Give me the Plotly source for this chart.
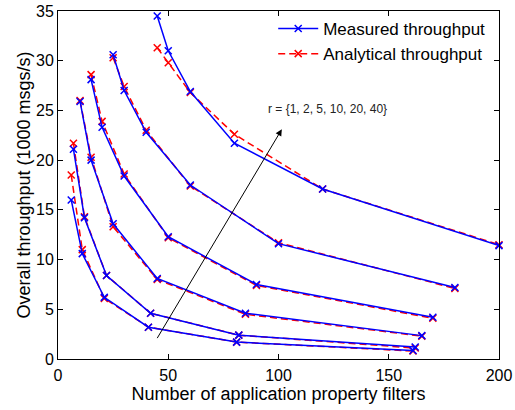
import plotly.graph_objects as go

# ---- data ----
x_r1 = [6, 11, 21, 41, 81, 161]
x_r2 = [7, 12, 22, 42, 82, 162]
x_r5 = [10, 15, 25, 45, 85, 165]
x_r10 = [15, 20, 30, 50, 90, 170]
x_r20 = [25, 30, 40, 60, 100, 180]
x_r40 = [45, 50, 60, 80, 120, 200]

meas_r1 = [16.0, 10.6, 6.2, 3.2, 1.7, 0.85]
meas_r2 = [21.1, 14.2, 8.4, 4.6, 2.4, 1.2]
meas_r5 = [25.9, 20.0, 13.6, 8.1, 4.6, 2.35]
meas_r10 = [28.1, 23.3, 18.4, 12.3, 7.5, 4.2]
meas_r20 = [30.6, 27.0, 22.8, 17.5, 11.6, 7.2]
meas_r40 = [34.5, 31.0, 26.9, 21.7, 17.1, 11.4]

anal_r1 = [18.5, 11.0, 6.1, 3.2, 1.7, 0.8]
anal_r2 = [21.7, 14.3, 8.4, 4.6, 2.4, 1.1]
anal_r5 = [26.0, 20.3, 13.3, 8.0, 4.5, 2.3]
anal_r10 = [28.6, 23.9, 18.6, 12.2, 7.4, 4.1]
anal_r20 = [30.3, 27.4, 23.0, 17.4, 11.7, 7.1]
anal_r40 = [31.3, 29.8, 26.8, 22.6, 17.1, 11.5]

x_ticks = [0, 50, 100, 150, 200]
y_ticks = [0, 5, 10, 15, 20, 25, 30, 35]

xs = [x_r1, x_r2, x_r5, x_r10, x_r20, x_r40]
meas = [meas_r1, meas_r2, meas_r5, meas_r10, meas_r20, meas_r40]
anal = [anal_r1, anal_r2, anal_r5, anal_r10, anal_r20, anal_r40]

FONT = "Liberation Sans, Arial, sans-serif"
BLUE = "#0000ff"
RED = "#ff0000"

fig = go.Figure()

for i, (x, y) in enumerate(zip(xs, anal)):
    fig.add_trace(go.Scatter(
        x=x, y=y, mode="lines+markers", name="Analytical throughput",
        legendgroup="anal", showlegend=(i == 0), legendrank=2,
        line=dict(color=RED, width=1.5, dash="7px,4px"),
        marker=dict(symbol="x-thin", size=7, line=dict(width=1.5, color=RED)),
        cliponaxis=False,
    ))

for i, (x, y) in enumerate(zip(xs, meas)):
    fig.add_trace(go.Scatter(
        x=x, y=y, mode="lines+markers", name="Measured throughput",
        legendgroup="meas", showlegend=(i == 0), legendrank=1,
        line=dict(color=BLUE, width=1.5),
        marker=dict(symbol="x-thin", size=7, line=dict(width=1.5, color=BLUE)),
        cliponaxis=False,
    ))

fig.add_annotation(
    x=101.5, y=23.1, ax=44.6, ay=1.95, xref="x", yref="y", axref="x", ayref="y",
    text="", showarrow=True, arrowhead=2, arrowsize=1.3, arrowwidth=1, arrowcolor="black",
)
fig.add_annotation(
    x=94.5, y=25.1, xref="x", yref="y", xanchor="left", yanchor="middle",
    text="r = {1, 2, 5, 10, 20, 40}", showarrow=False,
    font=dict(family=FONT, size=12, color="#222222"),
)

axis_common = dict(
    showline=True, linecolor="black", linewidth=1, mirror="ticks",
    ticks="inside", ticklen=5, tickcolor="black", tickwidth=1,
    showgrid=False, zeroline=False, automargin=False,
    tickfont=dict(family=FONT, size=16, color="black"),
)

fig.update_xaxes(
    range=[0, 200], tickvals=x_ticks, ticklabelstandoff=2,
    title=dict(text="Number of application property filters",
               font=dict(family=FONT, size=18, color="black"), standoff=0),
    **axis_common,
)
fig.update_yaxes(
    range=[0, 35], tickvals=y_ticks, ticklabelstandoff=0,
    title=dict(text="Overall throughput (1000 msgs/s)",
               font=dict(family=FONT, size=18, color="black"), standoff=0),
    **axis_common,
)

fig.update_layout(
    width=515, height=410,
    margin=dict(l=58, r=16, t=11, b=51),
    paper_bgcolor="white", plot_bgcolor="white",
    font=dict(family=FONT, color="black"),
    legend=dict(
        x=0.488, y=1.0, xanchor="left", yanchor="top",
        bgcolor="rgba(0,0,0,0)", borderwidth=0,
        font=dict(family=FONT, size=17, color="black"),
        itemwidth=40, tracegroupgap=0,
    ),
)

fig.write_html(
    "out.html",
    config={"displayModeBar": False},
    post_script="document.body.style.margin='0px';document.body.style.overflow='hidden';",
)
